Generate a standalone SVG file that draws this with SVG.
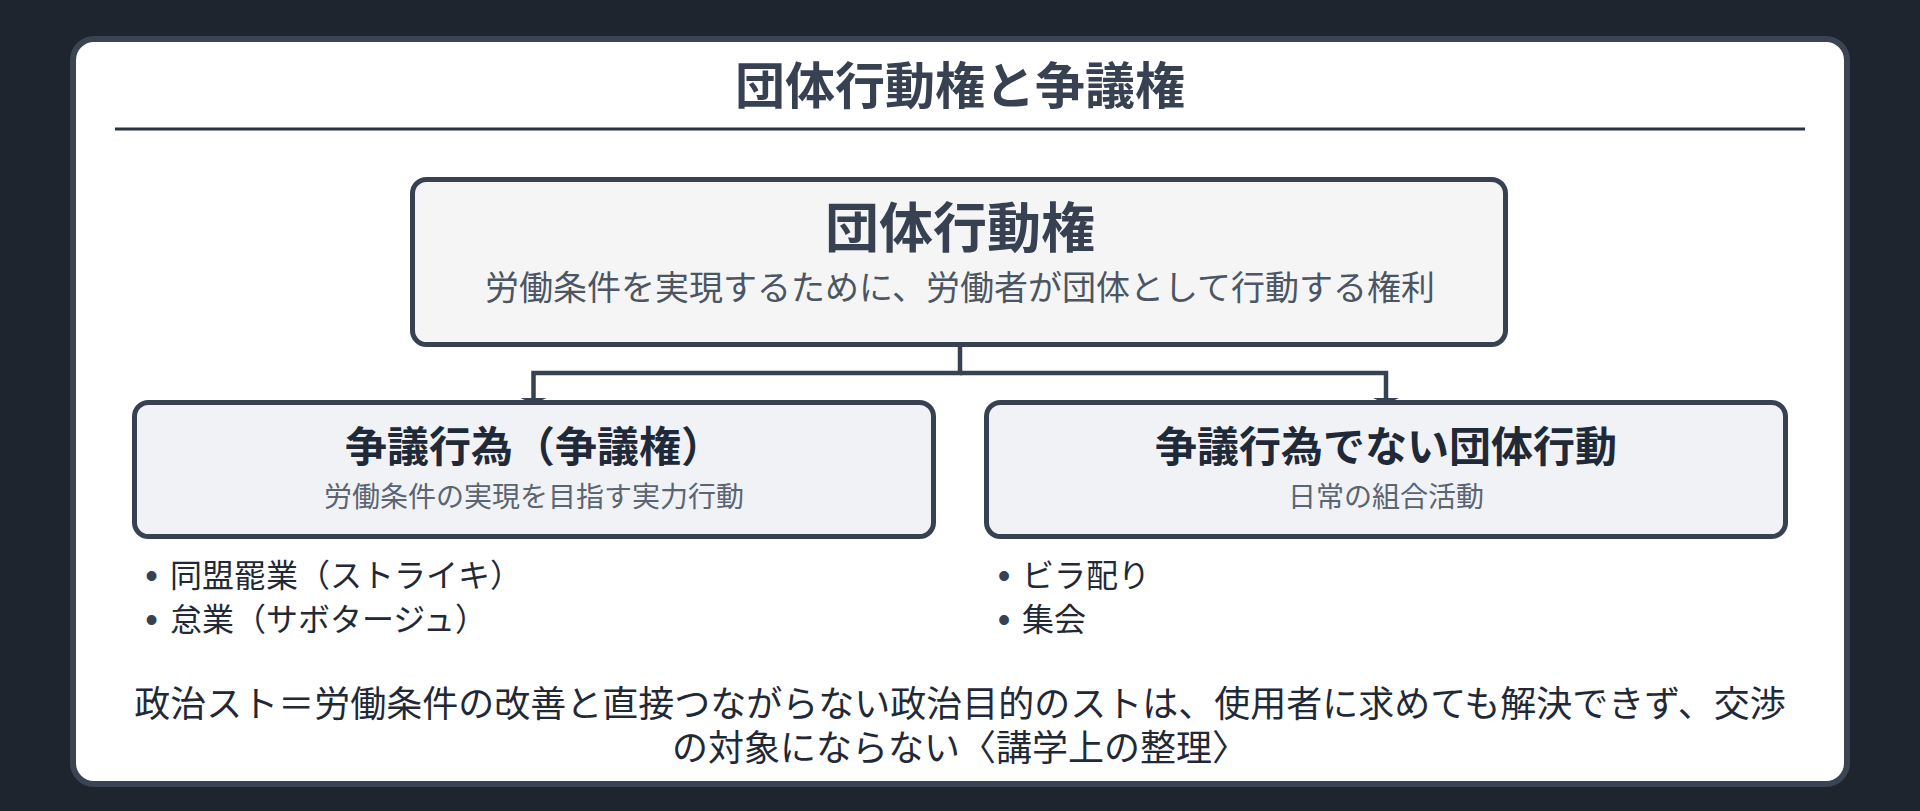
<svg xmlns="http://www.w3.org/2000/svg" width="1920" height="811" viewBox="0 0 1920 811">
  <style>
    .jp { font-family: "Noto Sans CJK JP", "Noto Sans", sans-serif; }
    .title { font-size: 50px; font-weight: 700; fill: #374151; }
    .node-top { fill: #f5f5f5; stroke: #374151; stroke-width: 5; }
    .node-child { fill: #f0f2f5; stroke: #374151; stroke-width: 5; }
    .h-top { font-size: 54px; font-weight: 700; fill: #374151; }
    .s-top { font-size: 34px; fill: #4b5563; }
    .h-child { font-size: 42px; font-weight: 700; fill: #1f2937; }
    .s-child { font-size: 28px; fill: #5b6472; }
    .bullet { font-size: 32px; fill: #1f2937; }
    .dot { font-family: "Liberation Sans", "Noto Sans", sans-serif; font-size: 36px; fill: #374151; }
    .note { font-size: 36px; fill: #1f2937; }
    .conn { fill: none; stroke: #374151; stroke-width: 4.5; stroke-linejoin: miter; }
  </style>
  <defs>
    <marker id="arr" viewBox="0 -13 6 26" refX="6" refY="0" markerWidth="6" markerHeight="26" markerUnits="userSpaceOnUse" orient="auto">
      <path d="M0,-13 L6,0 L0,13 Z" fill="#374151"/>
    </marker>
  </defs>

  <rect x="0" y="0" width="1920" height="811" fill="#1e252f"/>

  <g id="card">
    <rect x="73" y="39" width="1774" height="745" rx="21" ry="21" fill="#ffffff" stroke="#3a4452" stroke-width="6"/>
    <text class="jp title" x="960" y="104" text-anchor="middle">団体行動権と争議権</text>
    <line x1="115" y1="129" x2="1805" y2="129" stroke="#2b3340" stroke-width="3"/>
  </g>

  <g id="connectors">
    <path class="conn" d="M960,347 V373 H533.5 V404" marker-end="url(#arr)"/>
    <path class="conn" d="M960,373 H1386 V404" marker-end="url(#arr)"/>
  </g>

  <g id="node-dantai">
    <rect class="node-top" x="412.5" y="179.5" width="1093" height="165" rx="14" ry="14"/>
    <text class="jp h-top" x="960" y="248" text-anchor="middle">団体行動権</text>
    <text class="jp s-top" x="960" y="300" text-anchor="middle">労働条件を実現するために、労働者が団体として行動する権利</text>
  </g>

  <g id="node-sougi">
    <rect class="node-child" x="134.5" y="402.5" width="799" height="134" rx="14" ry="14"/>
    <text class="jp h-child" x="534" y="462" text-anchor="middle">争議行為（争議権）</text>
    <text class="jp s-child" x="534" y="507" text-anchor="middle">労働条件の実現を目指す実力行動</text>
  </g>

  <g id="node-hisougi">
    <rect class="node-child" x="986.5" y="402.5" width="799" height="134" rx="14" ry="14"/>
    <text class="jp h-child" x="1386" y="462" text-anchor="middle">争議行為でない団体行動</text>
    <text class="jp s-child" x="1386" y="507" text-anchor="middle">日常の組合活動</text>
  </g>

  <g id="list-sougi">
    <text class="dot" x="151.5" y="588" text-anchor="middle">•</text>
    <text class="jp bullet" x="170" y="587">同盟罷業（ストライキ）</text>
    <text class="dot" x="151.5" y="632" text-anchor="middle">•</text>
    <text class="jp bullet" x="170" y="631">怠業（サボタージュ）</text>
  </g>

  <g id="list-hisougi">
    <text class="dot" x="1004" y="588" text-anchor="middle">•</text>
    <text class="jp bullet" x="1022" y="587">ビラ配り</text>
    <text class="dot" x="1004" y="632" text-anchor="middle">•</text>
    <text class="jp bullet" x="1022" y="631">集会</text>
  </g>

  <g id="note">
    <text class="jp note" x="960" y="717" text-anchor="middle">政治スト＝労働条件の改善と直接つながらない政治目的のストは、使用者に求めても解決できず、交渉</text>
    <text class="jp note" x="960" y="761" text-anchor="middle">の対象にならない〈講学上の整理〉</text>
  </g>
</svg>
